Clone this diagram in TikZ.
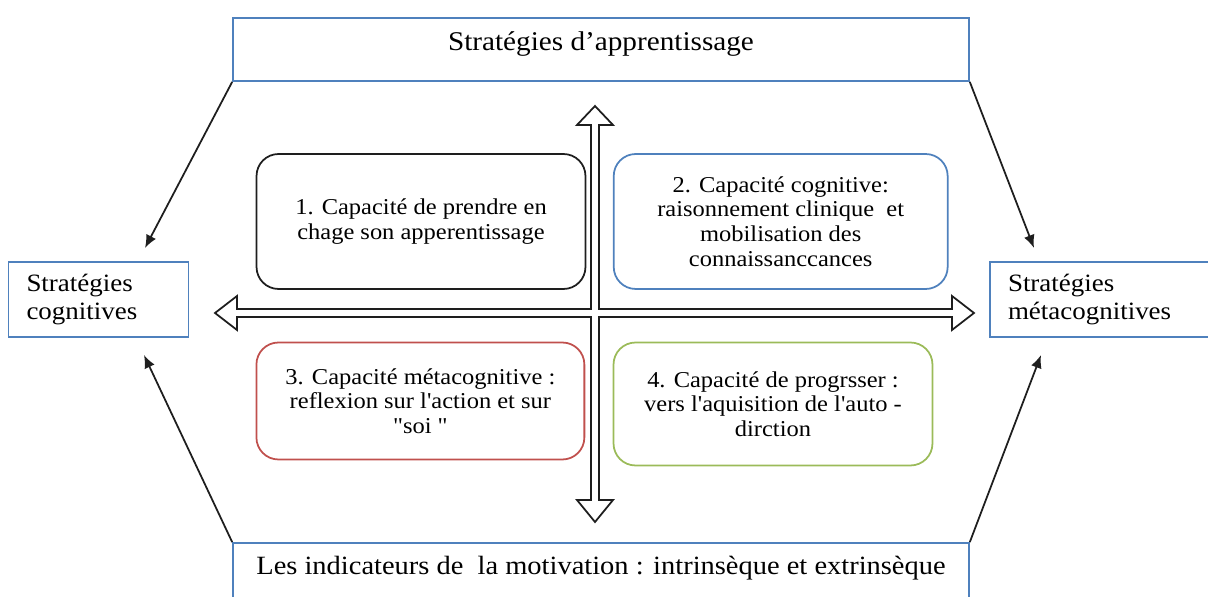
\documentclass[tikz,border=0pt]{standalone}
\usepackage{fontspec}
\setmainfont{Liberation Serif}[FakeStretch=1.08,Ligatures=TeXOff]
\usepackage{tikz}
\usetikzlibrary{arrows.meta}
\definecolor{edge_blue}{RGB}{79,129,189}
\definecolor{edge_red}{RGB}{192,80,77}
\definecolor{edge_green}{RGB}{155,187,89}
\definecolor{edge_black}{RGB}{30,30,30}

\begin{document}
\begin{tikzpicture}[x=0.02cm,y=-0.02cm,>={Latex[length=2.6mm,width=2.2mm]},line width=1pt]
    \tikzstyle{bluebox}=[draw=edge_blue, rectangle, fill=none, text=black]
    \tikzstyle{widebox}=[style=bluebox, minimum width=14.72cm, font=\fontsize{15.4}{17}\selectfont, text height=10.5pt]
    \tikzstyle{sidebox}=[style=bluebox, minimum height=1.5cm, inner xsep=0.36cm, align=left, font=\fontsize{14.2}{15.7}\selectfont]
    \tikzstyle{capbox}=[rectangle, rounded corners=0.44cm, align=center, text=black, font=\fontsize{12.9}{14}\selectfont]

    \useasboundingbox (0,0) rectangle (1208,597);

    \node[widebox, minimum height=1.26cm, text depth=8.8pt] (top) at (601,49.5) {Stratégies d’apprentissage};
    \node[widebox, font=\fontsize{15}{17}\selectfont, minimum height=1.6cm, text depth=20.7pt] (bot) at (601,583) {Les indicateurs de\ \ la motivation : intrinsèque et extrinsèque};
    \node[sidebox, text width=2.88cm] (cog) at (98.5,299.5) {Stratégies\\cognitives};
    \node[sidebox, text width=4.28cm] (meta) at (1115,299.5) {Stratégies\\métacognitives};

    \node[capbox, draw=edge_black, minimum width=6.58cm, minimum height=2.7cm] (c1) at (421,221.5) {1. Capacité de prendre en\\chage son apperentissage};
    \node[capbox, draw=edge_blue, minimum width=6.68cm, minimum height=2.7cm] (c2) at (780.7,221.5) {2. Capacité cognitive:\\raisonnement clinique\ \ et\\mobilisation des\\connaissanccances};
    \node[capbox, draw=edge_red, minimum width=6.56cm, minimum height=2.34cm] (c3) at (420.4,401) {3. Capacité métacognitive :\\reflexion sur l'action et sur\\"soi\ "};
    \node[capbox, draw=edge_green, minimum width=6.38cm, minimum height=2.46cm] (c4) at (773,404) {4. Capacité de progrsser :\\vers l'aquisition de l'auto -\\dirction};

    % open cross arrow in the middle
    \draw[edge_black, fill=white, line join=miter]
      (595,106) -- (613,125) -- (599,125) -- (599,309) -- (952,309) -- (952,296)
      -- (974,313) -- (952,330) -- (952,317) -- (599,317) -- (599,500) -- (613,500)
      -- (595,522) -- (577,500) -- (591,500) -- (591,317) -- (237,317) -- (237,330)
      -- (215,313) -- (237,296) -- (237,309) -- (591,309) -- (591,125) -- (577,125)
      -- cycle;

    \coordinate (cog_up) at (145,248);
    \coordinate (cog_dn) at (144,355);
    \coordinate (meta_up) at (1034,248);
    \coordinate (meta_dn) at (1041,355);

    \path[->, edge_black]
     (top.south west) edge (cog_up)
     (top.south east) edge (meta_up)
     (bot.north west) edge (cog_dn)
     (bot.north east) edge (meta_dn)
     ;
\end{tikzpicture}
\end{document}
